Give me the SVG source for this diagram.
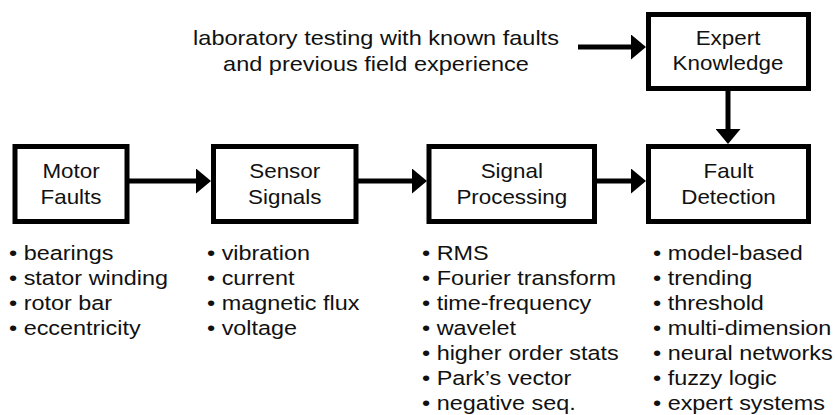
<svg xmlns="http://www.w3.org/2000/svg" width="835" height="415" viewBox="0 0 835 415">
<style>
  .box { fill: #ffffff; stroke: #000000; stroke-width: 5; }
  .conn { stroke: #000000; stroke-width: 5; fill: none; }
  .lbl { font-family: "Liberation Sans", Arial, sans-serif; font-size: 20px; fill: #111111; text-anchor: middle; }
  .top { font-family: "Liberation Sans", Arial, sans-serif; font-size: 21px; fill: #111111; text-anchor: middle; }
  .lst { font-family: "Liberation Sans", Arial, sans-serif; font-size: 19.5px; fill: #111111; }
</style>
<defs>
  <marker id="arr" markerUnits="userSpaceOnUse" markerWidth="15" markerHeight="25" refX="5" refY="12.5" orient="auto">
    <path d="M0,0 L15,12.5 L0,25 Z" fill="#000000"/>
  </marker>
</defs>
<rect width="835" height="415" fill="#ffffff"/>

<g id="connectors">
  <line class="conn" x1="578" y1="47" x2="636" y2="47" marker-end="url(#arr)"/>
  <line class="conn" x1="728" y1="90" x2="728" y2="134" marker-end="url(#arr)"/>
  <line class="conn" x1="129" y1="181" x2="201" y2="181" marker-end="url(#arr)"/>
  <line class="conn" x1="357" y1="181" x2="417" y2="181" marker-end="url(#arr)"/>
  <line class="conn" x1="596" y1="181" x2="636" y2="181" marker-end="url(#arr)"/>
</g>

<g id="source-note" transform="translate(376,0) scale(1.12,1)">
  <text class="top" x="0" y="45">laboratory testing with known faults</text>
  <text class="top" x="0" y="71">and previous field experience</text>
</g>

<g id="expert-knowledge">
  <rect class="box" x="648.5" y="14.5" width="160" height="74"/>
  <g transform="translate(728,0) scale(1.12,1)">
    <text class="lbl" x="0" y="45">Expert</text>
    <text class="lbl" x="0" y="70.5">Knowledge</text>
  </g>
</g>

<g id="motor-faults">
  <rect class="box" x="15" y="146.5" width="112" height="75"/>
  <g transform="translate(71,0) scale(1.12,1)">
    <text class="lbl" x="0" y="178.5">Motor</text>
    <text class="lbl" x="0" y="204">Faults</text>
  </g>
</g>

<g id="sensor-signals">
  <rect class="box" x="213.5" y="146.5" width="142.5" height="75"/>
  <g transform="translate(284.75,0) scale(1.12,1)">
    <text class="lbl" x="0" y="178.5">Sensor</text>
    <text class="lbl" x="0" y="204">Signals</text>
  </g>
</g>

<g id="signal-processing">
  <rect class="box" x="429" y="146.5" width="165.5" height="75"/>
  <g transform="translate(511.75,0) scale(1.12,1)">
    <text class="lbl" x="0" y="178.5">Signal</text>
    <text class="lbl" x="0" y="204">Processing</text>
  </g>
</g>

<g id="fault-detection">
  <rect class="box" x="648.5" y="146.5" width="160" height="75"/>
  <g transform="translate(728.5,0) scale(1.12,1)">
    <text class="lbl" x="0" y="178.5">Fault</text>
    <text class="lbl" x="0" y="204">Detection</text>
  </g>
</g>

<g id="motor-faults-list" transform="translate(9,0) scale(1.2,1)">
  <text class="lst" x="0" y="260">• bearings</text>
  <text class="lst" x="0" y="285">• stator winding</text>
  <text class="lst" x="0" y="310">• rotor bar</text>
  <text class="lst" x="0" y="335">• eccentricity</text>
</g>

<g id="sensor-signals-list" transform="translate(207,0) scale(1.2,1)">
  <text class="lst" x="0" y="260">• vibration</text>
  <text class="lst" x="0" y="285">• current</text>
  <text class="lst" x="0" y="310">• magnetic flux</text>
  <text class="lst" x="0" y="335">• voltage</text>
</g>

<g id="signal-processing-list" transform="translate(422,0) scale(1.2,1)">
  <text class="lst" x="0" y="260">• RMS</text>
  <text class="lst" x="0" y="285.5">• Fourier transform</text>
  <text class="lst" x="0" y="310.5">• time-frequency</text>
  <text class="lst" x="0" y="335.5">• wavelet</text>
  <text class="lst" x="0" y="360.5">• higher order stats</text>
  <text class="lst" x="0" y="385.5">• Park’s vector</text>
  <text class="lst" x="0" y="410">• negative seq.</text>
</g>

<g id="fault-detection-list" transform="translate(653,0) scale(1.2,1)">
  <text class="lst" x="0" y="260">• model-based</text>
  <text class="lst" x="0" y="285.5">• trending</text>
  <text class="lst" x="0" y="310.5">• threshold</text>
  <text class="lst" x="0" y="335.5">• multi-dimension</text>
  <text class="lst" x="0" y="360.5">• neural networks</text>
  <text class="lst" x="0" y="385.5">• fuzzy logic</text>
  <text class="lst" x="0" y="410">• expert systems</text>
</g>
</svg>
